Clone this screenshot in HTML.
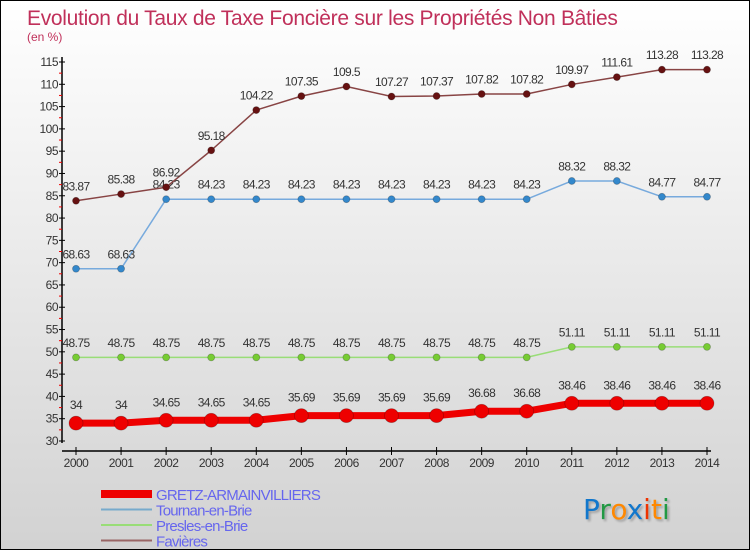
<!DOCTYPE html>
<html><head><meta charset="utf-8"><style>
html,body{margin:0;padding:0}
body{width:750px;height:550px;overflow:hidden;font-family:"Liberation Sans",sans-serif}
#wrap{position:relative;width:748px;height:548px;border:1px solid #000;background:linear-gradient(#ffffff,#d2d2d2)}
svg{position:absolute;left:0;top:0}
</style></head><body>
<div id="wrap">
<svg id="chart" width="750" height="550">
<text x="26" y="24" font-size="21" fill="#c0305a" letter-spacing="-0.3">Evolution du Taux de Taxe Foncière sur les Propriétés Non Bâties</text>
<text x="26" y="40" font-size="12" fill="#c0305a">(en %)</text>
</svg>
</div>
<script>
const years=["2000","2001","2002","2003","2004","2005","2006","2007","2008","2009","2010","2011","2012","2013","2014"];
const yTicks=[30,35,40,45,50,55,60,65,70,75,80,85,90,95,100,105,110,115];
const gretz=[34,34,34.65,34.65,34.65,35.69,35.69,35.69,35.69,36.68,36.68,38.46,38.46,38.46,38.46];
const tournan=[68.63,68.63,84.23,84.23,84.23,84.23,84.23,84.23,84.23,84.23,84.23,88.32,88.32,84.77,84.77];
const presles=[48.75,48.75,48.75,48.75,48.75,48.75,48.75,48.75,48.75,48.75,48.75,51.11,51.11,51.11,51.11];
const favieres=[83.87,85.38,86.92,95.18,104.22,107.35,109.5,107.27,107.37,107.82,107.82,109.97,111.61,113.28,113.28];
const seriesNames=["GRETZ-ARMAINVILLIERS","Tournan-en-Brie","Presles-en-Brie","Favières"];

const NS="http://www.w3.org/2000/svg";
const svg=document.getElementById('chart');
const x=i=>75+i*(706-75)/(years.length-1);
const y=v=>440-(v-30)*(440-61)/85;
function el(t,a,p){const e=document.createElementNS(NS,t);for(const k in a)e.setAttribute(k,a[k]);(p||svg).appendChild(e);return e;}

let ax=el('line',{x1:61,y1:56,x2:61,y2:442,stroke:'#000','stroke-width':1.5});


let xa=el('line',{x1:61,y1:450,x2:710,y2:450,stroke:'#000','stroke-width':1.5});


yTicks.forEach((v,k)=>{
  el('line',{x1:58,y1:y(v),x2:64,y2:y(v),stroke:'#000'});
  if(k<yTicks.length-1) el('line',{x1:58,y1:y(v+2.5),x2:61,y2:y(v+2.5),stroke:'#e00'});
  const t=el('text',{x:57,y:y(v)+4,'font-size':12,fill:'#333','text-anchor':'end','letter-spacing':'-0.5'});
  t.textContent=v;
  
  
});
years.forEach((yr,i)=>{
  el('line',{x1:x(i),y1:446,x2:x(i),y2:454,stroke:'#000'});
  const t=el('text',{x:x(i),y:466,'font-size':12,fill:'#333','text-anchor':'middle','letter-spacing':'-0.5'});
  t.textContent=yr;
  
  
});

function draw(data,color,lw,r,dot,name){
  const g=el('g',{});
  
  
  el('polyline',{points:data.map((v,i)=>x(i)+','+y(v)).join(' '),fill:'none',stroke:color,'stroke-width':lw,'stroke-linejoin':'round'},g);
  data.forEach((v,i)=>{
    const c=el('circle',{cx:x(i),cy:y(v),r:r,fill:dot,stroke:'rgba(0,0,0,0.25)','stroke-width':0.8},g);
    
    
    const t=el('text',{x:x(i),y:y(v)-(r+7),'font-size':12,fill:'#333','text-anchor':'middle','letter-spacing':'-0.6'},g);
    t.textContent=String(v);
    
    
  });
}
draw(presles,'#99dd77',1.5,3.5,'#77cc33','presles');
draw(tournan,'#77aadd',1.5,3.5,'#3388cc','tournan');
draw(favieres,'#884444',1.5,3.5,'#661111','favieres');
draw(gretz,'#ee0000',7,7,'#ee0000','gretz');

const leg=[['#ee0000',8],['#77aacc',2],['#99dd77',2],['#996666',2]];
seriesNames.forEach((n,i)=>{
  const yy=493+i*15.5;
  const g=el('g',{});
  
  
  el('line',{x1:100,y1:yy,x2:151,y2:yy,stroke:leg[i][0],'stroke-width':leg[i][1]},g);
  const t=el('text',{x:155,y:yy+6,'font-size':15,fill:'#6666ee','letter-spacing':'-0.8'},g);
  t.textContent=n;
});

const logo=el('text',{x:582,y:518,'font-size':28,'font-family':'"DejaVu Sans",sans-serif','style':'text-shadow:2px 2px 2px rgba(0,0,0,0.25)'});


[['P','#1177cc'],['r','#229944'],['o','#ff8800'],['x','#1177cc'],['i','#ee3300'],['t','#ff8800'],['i','#229944']].forEach(([c,f])=>{
  const s=el('tspan',{fill:f},logo);s.textContent=c;
});
</script>
</body></html>
